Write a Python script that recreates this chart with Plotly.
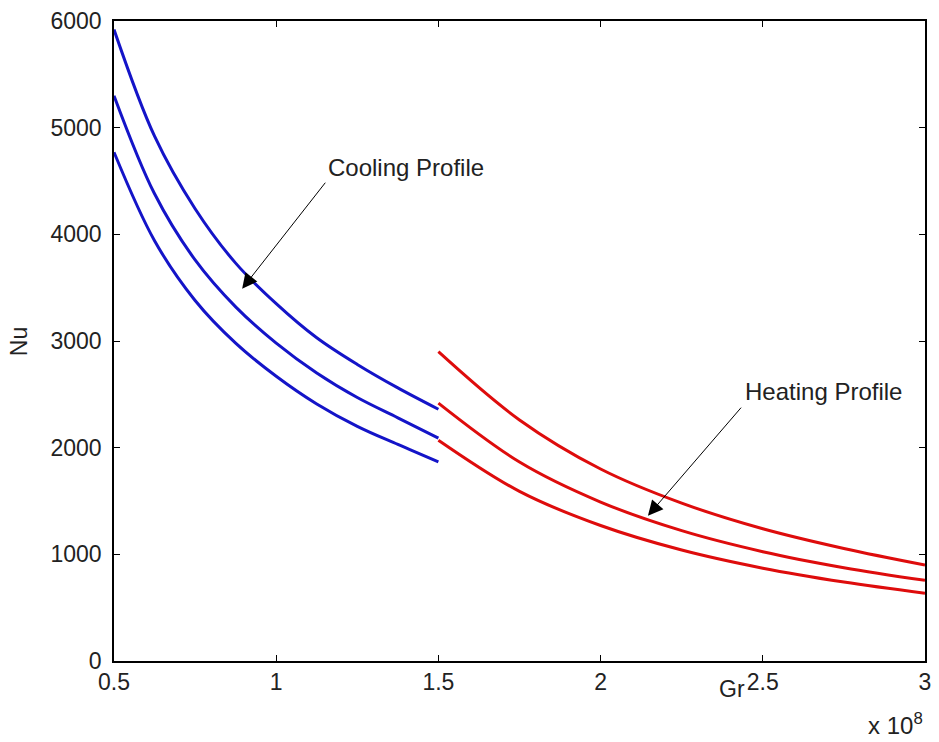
import plotly.graph_objects as go

# Grashof number (x 10^8) sample points
gr_cool = [0.5, 0.625, 0.75, 0.875, 1.0, 1.125, 1.25, 1.375, 1.5]
gr_heat = [1.5, 1.75, 2.0, 2.25, 2.5, 2.75, 3.0]

# Nusselt number, cooling profile (three cases)
nu_cool_1 = [5920, 4920, 4240, 3730, 3350, 3030, 2780, 2560, 2360]
nu_cool_2 = [5300, 4380, 3760, 3320, 2980, 2700, 2470, 2280, 2090]
nu_cool_3 = [4770, 3940, 3380, 2980, 2670, 2410, 2200, 2030, 1866]

# Nusselt number, heating profile (three cases)
nu_heat_1 = [2900, 2260, 1800, 1480, 1240, 1055, 900]
nu_heat_2 = [2417, 1865, 1490, 1222, 1025, 875, 756]
nu_heat_3 = [2070, 1590, 1270, 1040, 870, 740, 635]

x_ticks = [0.5, 1, 1.5, 2, 2.5, 3]
x_tick_text = ["0.5", "1", "1.5", "2", "2.5", "3"]
y_ticks = [0, 1000, 2000, 3000, 4000, 5000, 6000]

BLUE = "rgb(20,20,200)"
RED = "rgb(222,12,12)"
FONT = "Liberation Sans, Arial, sans-serif"

fig = go.Figure()
for ys in (nu_cool_1, nu_cool_2, nu_cool_3):
    fig.add_trace(go.Scatter(x=gr_cool, y=ys, mode="lines",
                             line=dict(color=BLUE, width=3, shape="spline", smoothing=1),
                             showlegend=False, hoverinfo="skip"))
for ys in (nu_heat_1, nu_heat_2, nu_heat_3):
    fig.add_trace(go.Scatter(x=gr_heat, y=ys, mode="lines",
                             line=dict(color=RED, width=3, shape="spline", smoothing=1),
                             showlegend=False, hoverinfo="skip"))

axis_common = dict(
    showgrid=False, zeroline=False, showline=True, linecolor="black", linewidth=1.5,
    mirror="ticks", ticks="inside", ticklen=6, tickcolor="black", tickwidth=1,
    tickfont=dict(family=FONT, size=23, color="#222"),
)
fig.update_xaxes(range=[0.5, 3], tickvals=x_ticks, ticktext=x_tick_text,
                 ticklabelstandoff=0, **axis_common)
fig.update_yaxes(range=[0, 6000], tickvals=y_ticks, ticklabelstandoff=6, **axis_common)

annotations = [
    # axis titles
    dict(text="Gr", x=737, y=689, xref="paper", yref="paper", showarrow=False, size=23),
    dict(text="Nu", x=19, y=340, xref="paper", yref="paper", showarrow=False,
         textangle=-90, size=23),
    dict(text="x 10<sup>8</sup>", x=901, y=724, xref="paper", yref="paper",
         showarrow=False, size=24),
    # profile labels
    dict(text="Cooling Profile", x=1.155, y=4628, xref="x", yref="y", xanchor="left",
         showarrow=False, size=24),
    dict(text="Heating Profile", x=2.44, y=2529, xref="x", yref="y", xanchor="left",
         showarrow=False, size=24),
    # arrows
    dict(text="", x=0.895, y=3490, ax=1.155, ay=4498, xref="x", yref="y",
         axref="x", ayref="y", showarrow=True, arrowhead=2, arrowsize=3,
         arrowwidth=1, arrowcolor="black", size=10),
    dict(text="", x=2.146, y=1362, ax=2.437, ay=2389, xref="x", yref="y",
         axref="x", ayref="y", showarrow=True, arrowhead=2, arrowsize=3,
         arrowwidth=1, arrowcolor="black", size=10),
]

# convert pixel placements of the free labels to paper coordinates
W, H = 939, 742
L, R, T, B = 114, 8, 18, 81
pw, ph = W - L - R, H - T - B
for a in annotations:
    size = a.pop("size")
    if a["xref"] == "paper":
        a["x"] = (a["x"] - L) / pw
        a["y"] = (H - B - a["y"]) / ph
        a["xanchor"] = "center"
        a["yanchor"] = "middle"
    a["font"] = dict(family=FONT, size=size, color="#222")

fig.update_layout(
    width=W, height=H,
    margin=dict(l=L, r=R, t=T, b=B),
    paper_bgcolor="white", plot_bgcolor="white",
    annotations=annotations,
)

fig.write_html("out.html")
